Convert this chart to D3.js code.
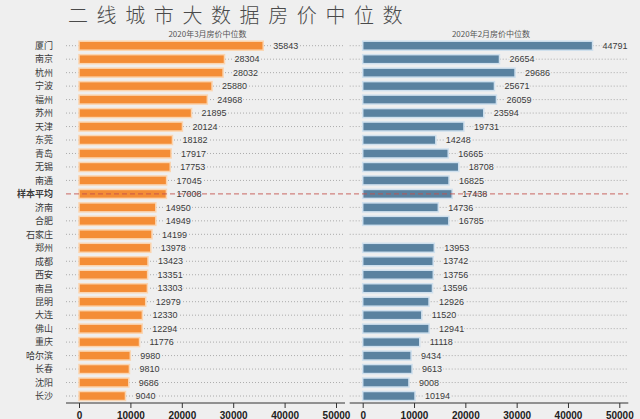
<!DOCTYPE html>
<html><head><meta charset="utf-8">
<script src="https://cdn.jsdelivr.net/npm/d3@7"></script>
<style>
html,body{margin:0;padding:0;background:#efefef;}
svg{display:block;}
</style></head>
<body>
<svg id="c" width="640" height="419"></svg>
<script>
const cities = ["厦门","南京","杭州","宁波","福州","苏州","天津","东莞","青岛","无锡","南通","样本平均","济南","合肥","石家庄","郑州","成都","西安","南昌","昆明","大连","佛山","重庆","哈尔滨","长春","沈阳","长沙"];
const march = [35843,28304,28032,25880,24968,21895,20124,18182,17917,17753,17045,17008,14950,14949,14199,13978,13423,13351,13303,12979,12330,12294,11776,9980,9810,9686,9040];
const feb = [44791,26654,29686,25671,26059,23594,19731,14248,16665,18708,16825,17438,14736,16785,null,13953,13742,13756,13596,12926,11520,12941,11118,9434,9613,9008,10194];
const ticks = [0,10000,20000,30000,40000,50000];
const title = "二线城市大数据房价中位数";
const subLeft = "2020年3月房价中位数";
const subRight = "2020年2月房价中位数";
const avgName = "样本平均";

const svg = d3.select("#c");
const bg = "#efefef";
const y = d3.scalePoint().domain(cities).range([45.7, 396]);
const panels = [
  {data: march, x: d3.scaleLinear().domain([0,50000]).range([79,336]), fill:"#f48d36", halo:"#fbd5b0", sub: subLeft},
  {data: feb, x: d3.scaleLinear().domain([0,50000]).range([362.7,619.3]), fill:"#5a82a0", halo:"#cfe0ee", sub: subRight}
];
const barH = 9;
const axisY = 403;

svg.append("text").attr("x",68).attr("y",23).text(title)
  .attr("font-family","'Noto Sans CJK SC'").attr("font-size",20).attr("font-weight",300)
  .attr("letter-spacing",8.6).attr("fill","#4a4a4a");

panels.forEach(p => {
  const x = p.x;
  const x0 = x(0) - 13, x1 = x(50000) + 9;
  svg.append("text").attr("x",(x(0)+x(50000))/2).attr("y",37).attr("text-anchor","middle")
    .text(p.sub).attr("font-family","'Noto Sans CJK SC'").attr("font-size",8).attr("fill","#555");
  // gridlines
  svg.append("g").selectAll("line").data(cities.filter(c=>c!==avgName)).join("line")
    .attr("x1",x0).attr("x2",x1).attr("y1",d=>y(d)).attr("y2",d=>y(d))
    .attr("stroke","#9a9a9a").attr("stroke-width",0.8).attr("stroke-dasharray","1,2");
  // bars
  svg.append("g").selectAll("rect").data(cities.map((c,i)=>({c, v:p.data[i]})).filter(d=>d.v!=null)).join("rect")
    .attr("x",x(0)).attr("y",d=>y(d.c)-barH/2).attr("width",d=>x(d.v)-x(0)).attr("height",barH)
    .attr("fill",p.fill).attr("stroke",p.halo).attr("stroke-width",1.5);
  // value labels
  svg.append("g").selectAll("text").data(cities.map((c,i)=>({c, v:p.data[i]})).filter(d=>d.v!=null)).join("text")
    .attr("x",d=>x(d.v)+10).attr("y",d=>y(d.c)+3.2).text(d=>d.v)
    .attr("font-family","'Liberation Sans', Arial").attr("font-size",9).attr("fill","#3a3a3a")
    .attr("stroke",bg).attr("stroke-width",3).attr("paint-order","stroke");
  // axis
  const ax = svg.append("g").attr("transform",`translate(0,${axisY})`)
    .call(d3.axisBottom(x).tickValues(ticks).tickSize(5).tickFormat(d3.format("d")));
  ax.select(".domain").attr("d",`M${x0},0H${x1}`).attr("stroke","#333");
  ax.selectAll(".tick line").attr("stroke","#333");
  ax.selectAll("text").attr("font-family","'Liberation Sans', Arial").attr("font-size",10)
    .attr("fill","#222").attr("font-weight","bold").attr("y",15.5).attr("dy","0");
});

// average dashed line
svg.append("line").attr("x1",panels[0].x(0)-13).attr("x2",panels[1].x(50000)+9)
  .attr("y1",y(avgName)).attr("y2",y(avgName))
  .attr("stroke","#c4504a").attr("stroke-width",1).attr("stroke-dasharray","5,3").attr("opacity",0.85);

// city labels
svg.append("g").selectAll("text").data(cities).join("text")
  .attr("x",53).attr("y",d=>y(d)+3.3).attr("text-anchor","end").text(d=>d)
  .attr("font-family","'Noto Sans CJK SC'").attr("font-size",9).attr("fill","#3a3a3a")
  .attr("font-weight",d=>d===avgName?"bold":"normal");
</script>
</body></html>
